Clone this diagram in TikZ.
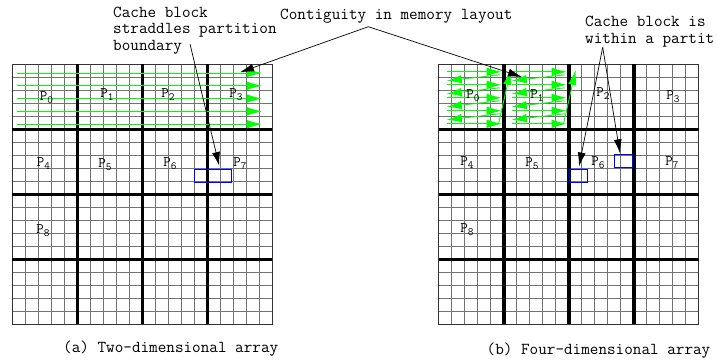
\documentclass[tikz,border=0pt]{standalone}
\usepackage{fontspec}
\usetikzlibrary{arrows.meta}

% partition label: P with a lowered digit
\newcommand{\plab}[1]{P\raisebox{-3pt}{\fontsize{11}{11}\selectfont #1}}

\tikzset{
  note/.style={font=\ttfamily\fontsize{16.7}{16.8}\selectfont, inner sep=0pt, align=left},
  part/.style={font=\ttfamily\fontsize{14.5}{14.5}\selectfont, inner sep=0pt},
  cell/.style={black!55, line width=0.7pt},
  border/.style={black!80, line width=1pt},
  partline/.style={black, line width=3.6pt},
  pointer/.style={-{Latex[length=14pt,width=8pt]}, line width=0.7pt},
  flow/.style={green, line width=0.9pt, -{Latex[length=15pt,width=8.5pt]}},
  cacheblock/.style={blue, line width=0.9pt},
}

\begin{document}
\begin{tikzpicture}[x=1pt, y=-1pt]
\useasboundingbox (0,0) rectangle (717,360);

% the two arrays, 20x20 cells of 13pt, 4x4 partitions
\foreach \ox in {12.3, 438.7} {
  \begin{scope}[shift={(\ox,64.3)}]
    \foreach \i in {1,...,19} {
      \draw[cell] (13*\i,0) -- (13*\i,260);
      \draw[cell] (0,13*\i) -- (260,13*\i);
    }
    \draw[border] (0,0) rectangle (260,260);
    \foreach \i in {65,130,195} {
      \draw[partline] (\i,0) -- (\i,260);
      \draw[partline] (0,\i) -- (260,\i);
    }
  \end{scope}
}

% (a) rows run across the whole array
\foreach \r in {0,...,4}
  \draw[flow] (16.7,73+12.8*\r) -- (262,73+12.8*\r);

% (b) rows run inside one partition, then on to the next
\foreach \px in {438.7, 503.7} {
  \foreach \r in {0,...,4}
    \draw[flow] (\px+8,71.8+13*\r) -- (\px+63,71.8+13*\r);
  \foreach \r in {0,...,3}
    \draw[flow] (\px+61,74.8+13*\r) -- (\px+8,80.8+13*\r);
  \draw[flow] (\px+60,123) -- (\px+72,70);
}

% partition labels, (a)
\node[part] (a0) at (46.5,98) {\plab{0}};
\node[part] (a1) at (107,95) {\plab{1}};
\node[part] (a2) at (168,95) {\plab{2}};
\node[part] (a3) at (236,95) {\plab{3}};
\node[part] (a4) at (43.5,164) {\plab{4}};
\node[part] (a5) at (105,165) {\plab{5}};
\node[part] (a6) at (170,164) {\plab{6}};
\node[part] (a7) at (240,164) {\plab{7}};
\node[part] (a8) at (43,231) {\plab{8}};

% partition labels, (b)
\node[part] (b0) at (473,96) {\plab{0}};
\node[part] (b1) at (537,96) {\plab{1}};
\node[part] (b2) at (603,94) {\plab{2}};
\node[part] (b3) at (673,97) {\plab{3}};
\node[part] (b4) at (467,163) {\plab{4}};
\node[part] (b5) at (532,164) {\plab{5}};
\node[part] (b6) at (598,163) {\plab{6}};
\node[part] (b7) at (672,163) {\plab{7}};
\node[part] (b8) at (467,230) {\plab{8}};

% cache blocks
\draw[cacheblock] (194.3,169.3) rectangle (231.7,182.3);
\draw[cacheblock] (569,169.3) rectangle (587.3,182.3);
\draw[cacheblock] (614.3,154) rectangle (632.3,167.3);

% annotations
\node[note, anchor=north west] (straddle) at (113,6.5) {Cache block\\straddles partition\\boundary};
\node[note, anchor=base west] (contig) at (280,19) {Contiguity in memory layout};
\node[note, anchor=north west] (within) at (585,15.8) {Cache block is\\within a partit};

\coordinate (sfrom) at (190,44);
\coordinate (sto) at (219.3,166);
\coordinate (cfrom) at (368.3,26.7);
\coordinate (cto1) at (240,72.3);
\coordinate (cto2) at (522,77);
\coordinate (wfrom) at (602.7,47.3);
\coordinate (wto1) at (579,166.5);
\coordinate (wto2) at (620,153.3);

\draw[pointer] (sfrom) -- (sto);
\draw[pointer] (cfrom) -- (cto1);
\draw[pointer] (cfrom) -- (cto2);
\draw[pointer] (wfrom) -- (wto1);
\draw[pointer] (wfrom) -- (wto2);

% captions
\node[note, anchor=base west] (capa) at (63,352) {(a) Two-dimensional array};
\node[note, anchor=base west] (capb) at (486.5,354) {(b) Four-dimensional array};
\end{tikzpicture}
\end{document}
